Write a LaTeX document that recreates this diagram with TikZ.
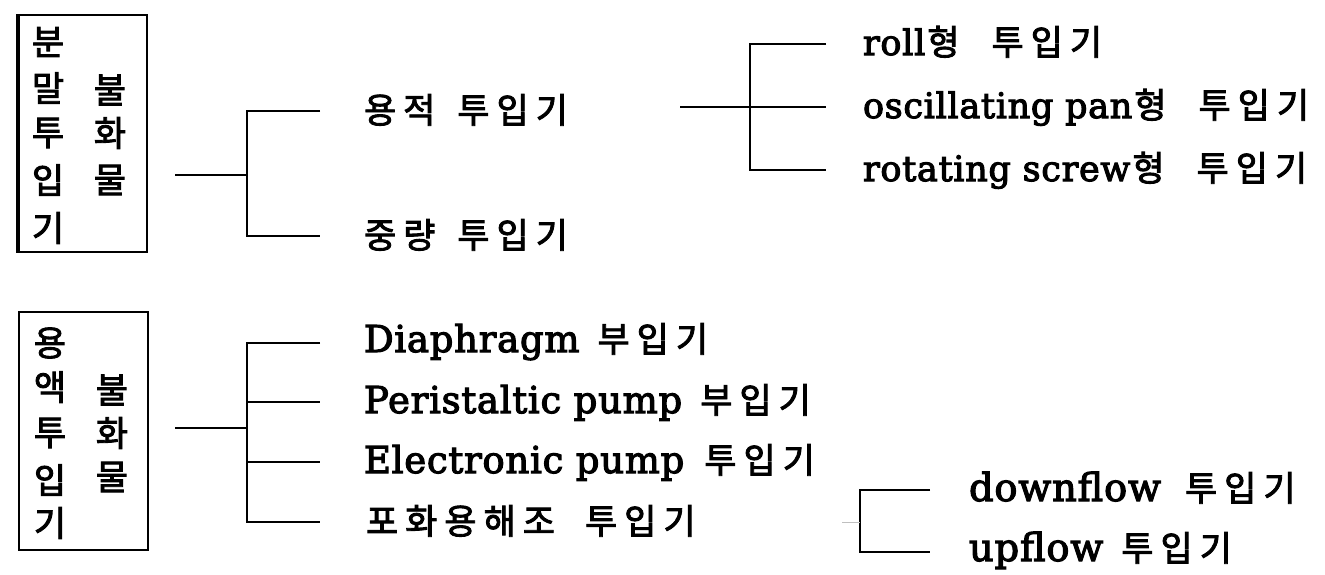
\documentclass[tikz,border=0pt]{standalone}
\usepackage{fontspec}
\setmainfont{DejaVu Serif}[FakeBold=3]
\newfontfamily\lat[FakeBold=3,LetterSpace=2]{DejaVu Serif}
\newfontfamily\kr[LetterSpace=20,FakeBold=2.5]{Noto Sans CJK KR}
\newfontfamily\krv[FakeBold=2.5]{Noto Sans CJK KR}
\newcommand{\K}[1]{{\fontsize{35}{40}\selectfont\kr #1}}
\newcommand{\Lt}[1]{{\lat #1}}
\begin{document}
\begin{tikzpicture}[x=1pt,y=-1pt, line width=2pt,
  lbl/.style={anchor=base west, inner sep=0, font=\fontsize{35}{40}\selectfont},
  lbll/.style={anchor=base west, inner sep=0, font=\fontsize{37}{40}\selectfont},
  lblx/.style={anchor=base west, inner sep=0, font=\fontsize{38.5}{44}\selectfont},
  klbl/.style={anchor=base west, inner sep=0, font=\fontsize{35}{40}\selectfont},
  vch/.style={inner sep=0, font=\fontsize{35}{36}\selectfont\krv},
  frame/.style={draw, line width=2pt, inner sep=0},
  faint/.style={line width=1pt, black!25}]
\useasboundingbox (0,0) rectangle (1325,574);

% ---------- box 1 ----------
\node[frame, minimum width=128, minimum height=237] (box1) at (83,133.5) {};
\draw[line width=4pt] (box1.north west) -- (box1.south west);
\node[vch] (b1a) at (48,42) {분};
\node[vch] (b1b) at (48,88) {말};
\node[vch] (b1c) at (48,133) {투};
\node[vch] (b1d) at (48,180) {입};
\node[vch] (b1e) at (48,228) {기};
\node[vch] (b1f) at (110,90) {불};
\node[vch] (b1g) at (110,133) {화};
\node[vch] (b1h) at (110,180) {물};

% ---------- box 2 ----------
\node[frame, minimum width=129, minimum height=238] (box2) at (83.5,431) {};
\node[vch] (b2a) at (50,343) {용};
\node[vch] (b2b) at (50,387) {액};
\node[vch] (b2c) at (50,433) {투};
\node[vch] (b2d) at (50,480) {입};
\node[vch] (b2e) at (50,523) {기};
\node[vch] (b2f) at (112,390) {불};
\node[vch] (b2g) at (112,433) {화};
\node[vch] (b2h) at (112,477) {물};

% ---------- labels ----------
\node[klbl] (vol) at (363,123) {\K{용적\hspace{22pt}투입기}};
\node[klbl] (grav) at (363,248) {\K{중량\hspace{22pt}투입기}};
\node[lbl] (roll) at (862,55) {\Lt{roll}\K{\hspace{2pt}형\hspace{32pt}투입기}};
\node[lbl] (osc) at (862,118) {\Lt{oscillating pan}\K{\hspace{2pt}형\hspace{32pt}투입기}};
\node[lbl] (rot) at (862,181) {\Lt{rotating screw}\K{\hspace{2pt}형\hspace{32pt}투입기}};
\node[lbll] (dia) at (363,352) {\Lt{Diaphragm}\hspace{18pt}\K{부입기}};
\node[lbll] (per) at (363,413) {\Lt{Peristaltic pump}\hspace{18pt}\K{부입기}};
\node[lbll] (ele) at (363,473) {\Lt{Electronic pump}\hspace{20pt}\K{투입기}};
\node[klbl] (sat) at (365,534) {\K{포화용해조\hspace{30pt}투입기}};
\node[lblx] (down) at (968,501) {\Lt{downflow}\hspace{24pt}\K{투입기}};
\node[lblx] (up) at (968,561) {\Lt{upflow}\hspace{18pt}\K{투입기}};

% ---------- tree 1 ----------
\coordinate (s1) at (175,175);
\coordinate (j1) at (247,175);
\coordinate (v1t) at (247,111);
\coordinate (v1b) at (247,236);
\coordinate (e1a) at (320,111);
\coordinate (e1b) at (320,236);
\draw (s1) -- (j1);
\draw (e1a) -- (v1t) -- (v1b) -- (e1b);

% ---------- tree 2 ----------
\coordinate (s2) at (680,107);
\coordinate (e2b) at (826,107);
\coordinate (v2t) at (750,44);
\coordinate (v2b) at (750,170);
\coordinate (e2a) at (826,44);
\coordinate (e2c) at (826,170);
\draw (s2) -- (e2b);
\draw (e2a) -- (v2t) -- (v2b) -- (e2c);

% ---------- tree 3 ----------
\coordinate (s3) at (175,428);
\coordinate (j3) at (247,428);
\coordinate (v3t) at (247,343);
\coordinate (v3b) at (247,522);
\coordinate (e3a) at (320,343);
\coordinate (e3b) at (320,402);
\coordinate (e3c) at (320,462);
\coordinate (e3d) at (320,522);
\coordinate (k3b) at (247,402);
\coordinate (k3c) at (247,462);
\draw (s3) -- (j3);
\draw (e3a) -- (v3t) -- (v3b) -- (e3d);
\draw (k3b) -- (e3b);
\draw (k3c) -- (e3c);

% ---------- tree 4 ----------
\coordinate (v4t) at (860,490);
\coordinate (v4b) at (860,552);
\coordinate (e4a) at (930,490);
\coordinate (e4b) at (930,552);
\coordinate (s4) at (842,522);
\coordinate (j4) at (860,522);
\draw (e4a) -- (v4t) -- (v4b) -- (e4b);
\draw[faint] (s4) -- (j4);
\end{tikzpicture}
\end{document}
